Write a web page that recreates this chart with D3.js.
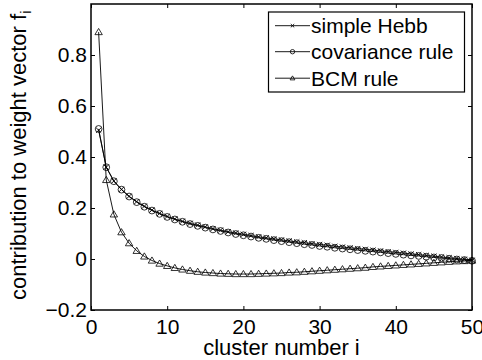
<!DOCTYPE html>
<html><head><meta charset="utf-8">
<script src="https://cdn.jsdelivr.net/npm/d3@7"></script>
<style>body{margin:0;background:#fff}svg{display:block}text{font-family:"Liberation Sans",Arial,Helvetica,sans-serif;fill:#000}</style>
</head><body>
<svg id="c" width="482" height="360"></svg>
<script>
const clusters = d3.range(1, 51);
const hebb = [0.505,0.36,0.306,0.273,0.246,0.225,0.207,0.192,0.179,0.167,
  0.157,0.148,0.140,0.133,0.126,0.119,0.113,0.107,0.102,0.097,
  0.092,0.087,0.083,0.079,0.075,0.071,0.067,0.064,0.060,0.057,
  0.054,0.050,0.047,0.044,0.041,0.038,0.035,0.032,0.029,0.026,
  0.023,0.020,0.017,0.014,0.011,0.008,0.005,0.002,-0.001,-0.005];
const covariance = [0.51,0.36,0.305,0.272,0.245,0.223,0.205,0.19,0.177,0.165,
  0.155,0.146,0.137,0.13,0.123,0.116,0.110,0.104,0.098,0.093,
  0.088,0.083,0.079,0.074,0.070,0.066,0.062,0.058,0.055,0.051,
  0.048,0.044,0.041,0.038,0.035,0.032,0.029,0.026,0.023,0.020,
  0.017,0.014,0.012,0.009,0.006,0.004,0.001,-0.002,-0.004,-0.007];
const bcm = [0.89,0.31,0.175,0.105,0.062,0.032,0.01,-0.006,-0.018,-0.027,
  -0.035,-0.041,-0.046,-0.050,-0.053,-0.055,-0.057,-0.058,-0.059,-0.059,
  -0.059,-0.058,-0.057,-0.056,-0.055,-0.053,-0.052,-0.050,-0.048,-0.046,
  -0.044,-0.042,-0.040,-0.038,-0.036,-0.034,-0.031,-0.029,-0.027,-0.025,
  -0.023,-0.021,-0.019,-0.017,-0.015,-0.013,-0.011,-0.009,-0.008,-0.006];
const seriesNames = ["simple Hebb", "covariance rule", "BCM rule"];
const seriesMarkers = ["x", "circle", "triangle"];
const xTicks = [0, 10, 20, 30, 40, 50];
const yTicks = [-0.2, 0, 0.2, 0.4, 0.6, 0.8];
const xLabel = "cluster number i";
const yLabel = "contribution to weight vector f";
const yLabelSub = "i";

const svg = d3.select("#c");
const L = 91, R = 472, T = 4, B = 310;
const x = d3.scaleLinear().domain([0, 50]).range([L, R]);
const y = d3.scaleLinear().domain([-0.2, 1.0]).range([B, T]);

svg.append("rect").attr("width", 482).attr("height", 360).attr("fill", "#fff");

function fmt(v) { const s = d3.format(".1f")(v); return v === 0 ? "0" : (v < 0 ? "\u2212" + s.slice(1) : s); }

// axes
const gx = svg.append("g").attr("transform", `translate(0,${B})`)
  .call(d3.axisBottom(x).tickValues(xTicks).tickSizeInner(-4).tickSizeOuter(0).tickPadding(9).tickFormat(d3.format("d")));
const gxt = svg.append("g").attr("transform", `translate(0,${T})`)
  .call(d3.axisTop(x).tickValues(xTicks).tickSizeInner(-4).tickSizeOuter(0).tickFormat(""));
const gy = svg.append("g").attr("transform", `translate(${L},0)`)
  .call(d3.axisLeft(y).tickValues(yTicks).tickSizeInner(-4).tickSizeOuter(0).tickPadding(4).tickFormat(fmt));
const gyr = svg.append("g").attr("transform", `translate(${R},0)`)
  .call(d3.axisRight(y).tickValues(yTicks).tickSizeInner(-4).tickSizeOuter(0).tickFormat(""));
[gx, gxt, gy, gyr].forEach(g => {
  g.select(".domain").remove();
  g.selectAll(".tick line").attr("stroke", "#000").attr("stroke-width", 1);
  g.selectAll("text").attr("font-size", 21).attr("fill", "#000")
    .attr("font-family", '"Liberation Sans",Arial,sans-serif');
});
gx.selectAll("text").attr("dy", "0.71em");
svg.append("rect").attr("x", L).attr("y", T).attr("width", R - L).attr("height", B - T)
  .attr("fill", "none").attr("stroke", "#000").attr("stroke-width", 1.5);

// labels
svg.append("text").attr("x", (L + R) / 2).attr("y", 355).attr("text-anchor", "middle")
  .attr("font-size", 22).text(xLabel);
const yl = svg.append("text").attr("transform", "translate(26,300) rotate(-90)")
  .attr("text-anchor", "start").attr("font-size", 22);
yl.append("tspan").text(yLabel);
yl.append("tspan").attr("font-size", 15).attr("dy", 5).text(yLabelSub);

// markers
function marker(sel, type, s) {
  if (type === "circle") {
    sel.append("circle").attr("r", 3.4 * s).attr("fill", "none").attr("stroke", "#000").attr("stroke-width", 0.8);
  } else if (type === "triangle") {
    const h = 3.7 * s;
    sel.append("path").attr("d", `M0,${-3.6 * s}L${h},${2.6 * s}L${-h},${2.6 * s}Z`)
      .attr("fill", "none").attr("stroke", "#000").attr("stroke-width", 0.8);
  } else {
    const h = 2.6 * s;
    sel.append("path").attr("d", `M${-h},${-h}L${h},${h}M${-h},${h}L${h},${-h}`)
      .attr("stroke", "#000").attr("stroke-width", 0.9);
  }
}

const data = [hebb, covariance, bcm];
const line = d3.line().x((d, i) => x(clusters[i])).y(d => y(d));
data.forEach((vals, k) => {
  const g = svg.append("g");
  g.append("path").attr("d", line(vals)).attr("fill", "none").attr("stroke", "#000").attr("stroke-width", 0.9);
  vals.forEach((v, i) => {
    const m = g.append("g").attr("transform", `translate(${x(clusters[i])},${y(v)})`);
    marker(m, seriesMarkers[k], 1);
  });
});

// legend
const lg = svg.append("g");
lg.append("rect").attr("x", 268.5).attr("y", 12).attr("width", 196).attr("height", 80)
  .attr("fill", "#fff").attr("stroke", "#000").attr("stroke-width", 1.2);
const rows = [25.7, 51.7, 78.2];
seriesNames.forEach((n, k) => {
  const g = lg.append("g").attr("transform", `translate(0,${rows[k]})`);
  g.append("line").attr("x1", 275).attr("x2", 310).attr("stroke", "#000").attr("stroke-width", 0.9);
  const m = g.append("g").attr("transform", "translate(292.5,0)");
  marker(m, seriesMarkers[k], 0.65);
  g.append("text").attr("x", 311).attr("dy", "0.36em").attr("font-size", 21).text(n);
});
</script>
</body></html>
